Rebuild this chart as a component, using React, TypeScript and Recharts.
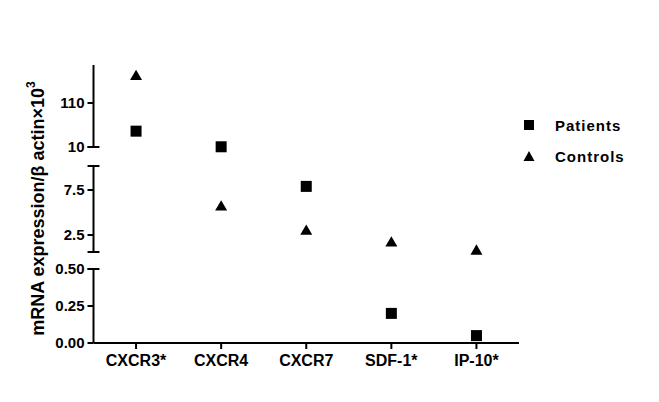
import {
  ScatterChart,
  Scatter,
  XAxis,
  YAxis,
  Legend,
  ReferenceLine,
} from "recharts";

const categories = ["CXCR3*", "CXCR4", "CXCR7", "SDF-1*", "IP-10*"];
const patients = [46, 10.5, 7.9, 0.2, 0.05];
const controls = [170, 5.6, 2.9, 1.6, 0.7];
const seriesOrder = ["Patients", "Controls"];

const tickValues = [0, 0.25, 0.5, 2.5, 7.5, 10, 110];
const tickLabels = ["0.00", "0.25", "0.50", "2.5", "7.5", "10", "110"];

const FONT = "'Liberation Sans', Arial, sans-serif";

// broken y axis: three pieces stacked on one linear "display" scale
function toDisplay(v: number): number {
  if (v <= 0.5) return v * 148;
  if (v < 10) return 108 + (v - 2.5) * 9;
  return 196 + (v - 10) * 0.44;
}

const pieces: [number, number][] = [
  [0, 74],
  [91, 177],
  [196, 278],
];
// little end caps on the axis pieces
const caps = [74, 91, 177, 196];

const patientData = categories.map((c, i) => ({ x: i, y: toDisplay(patients[i]), name: c }));
const controlData = categories.map((c, i) => ({ x: i, y: toDisplay(controls[i]), name: c }));

function SquareShape(props: any) {
  const { cx, cy } = props;
  return <rect x={cx - 5.5} y={cy - 5.5} width={11} height={11} fill="#000" />;
}

function TriangleShape(props: any) {
  const { cx, cy } = props;
  const h = 10.4;
  const pts = `${cx},${cy - (2 * h) / 3} ${cx - 6},${cy + h / 3} ${cx + 6},${cy + h / 3}`;
  return <polygon points={pts} fill="#000" />;
}

function LegendBox({ payload }: any) {
  const items = [...(payload || [])].sort(
    (a: any, b: any) => seriesOrder.indexOf(a.value) - seriesOrder.indexOf(b.value)
  );
  return (
    <div style={{ fontFamily: FONT, fontWeight: 700, fontSize: 15, letterSpacing: 1 }}>
      {items.map((p: any) => (
        <div key={p.value} style={{ display: "flex", alignItems: "center", height: 31 }}>
          <svg width={14} height={14} style={{ marginRight: 19 }}>
            {p.value === "Patients" ? (
              <rect x={2} y={2} width={10} height={10} fill="#000" />
            ) : (
              <polygon points="7,2 1.5,12 12.5,12" fill="#000" />
            )}
          </svg>
          <span>{p.value}</span>
        </div>
      ))}
    </div>
  );
}

function YLabel(props: any) {
  const { viewBox } = props;
  const cx = 29.5;
  const cy = viewBox.y + 143.5;
  return (
    <text
      x={cx}
      y={cy}
      transform={`rotate(-90 ${cx} ${cy})`}
      textAnchor="middle"
      dominantBaseline="central"
      fontFamily={FONT}
      fontWeight={700}
      fontSize={18}
      fill="#000"
    >
      mRNA expression/β actin×10
      <tspan fontSize={12} dy={-7}>3</tspan>
    </text>
  );
}

export default function App() {
  const tickStyle = { fontFamily: FONT, fontWeight: 700, fontSize: 15, fill: "#000" };
  const xTickStyle = { ...tickStyle, fontSize: 16 };
  return (
    <div style={{ width: 640, height: 390, position: "relative" }}>
      <ScatterChart
        width={640}
        height={390}
        margin={{ top: 57, right: 129, bottom: 25, left: 0 }}
      >
        <XAxis
          type="number"
          dataKey="x"
          domain={[-0.5, 4.5]}
          ticks={[0, 1, 2, 3, 4]}
          interval={0}
          tickFormatter={(v: number) => categories[v] ?? ""}
          height={30}
          tickSize={6}
          tickMargin={6}
          tick={xTickStyle}
          axisLine={{ stroke: "#000", strokeWidth: 2 }}
          tickLine={{ stroke: "#000", strokeWidth: 2 }}
        />
        <YAxis
          type="number"
          dataKey="y"
          domain={[0, 278]}
          ticks={tickValues.map(toDisplay)}
          interval={0}
          tickFormatter={(v: number) => {
            const i = tickValues.findIndex((t) => Math.abs(toDisplay(t) - v) < 0.01);
            return i >= 0 ? tickLabels[i] : "";
          }}
          width={85.5}
          tickSize={6}
          tickMargin={3}
          tick={tickStyle}
          axisLine={false}
          tickLine={{ stroke: "#000", strokeWidth: 2 }}
          label={{ content: YLabel }}
        />
        {pieces.map(([a, b]) => (
          <ReferenceLine
            key={`p${a}`}
            segment={[{ x: -0.5, y: a }, { x: -0.5, y: b }]}
            stroke="#000"
            strokeWidth={2}
            ifOverflow="visible"
          />
        ))}
        {caps.map((c) => (
          <ReferenceLine
            key={`c${c}`}
            segment={[{ x: -0.57, y: c }, { x: -0.43, y: c }]}
            stroke="#000"
            strokeWidth={2}
            ifOverflow="visible"
          />
        ))}
        <Legend
          layout="horizontal"
          align="center"
          verticalAlign="middle"
          content={LegendBox}
          wrapperStyle={{ position: "absolute", top: 101.5, left: 514, width: 120 }}
        />
        <Scatter
          name="Patients"
          data={patientData}
          fill="#000"
          shape={SquareShape}
          isAnimationActive={false}
        />
        <Scatter
          name="Controls"
          data={controlData}
          fill="#000"
          shape={TriangleShape}
          isAnimationActive={false}
        />
      </ScatterChart>
    </div>
  );
}
